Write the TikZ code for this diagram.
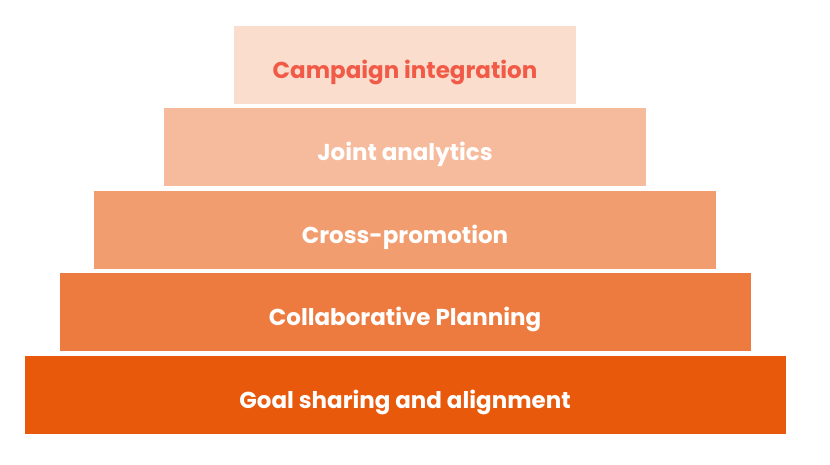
\documentclass[tikz,border=0pt]{standalone}
\usepackage{fontspec}
\setmainfont{Poppins}
\usetikzlibrary{positioning}
\definecolor{tierA}{HTML}{FADDCD}
\definecolor{tierB}{HTML}{F6BB9C}
\definecolor{tierC}{HTML}{F29D6F}
\definecolor{tierD}{HTML}{ED7B3F}
\definecolor{tierE}{HTML}{E8590C}
\definecolor{coral}{HTML}{F25A48}
\tikzset{
  tier/.style={
    rectangle, minimum height=78pt, inner sep=0pt,
    text height=27pt, text depth=0pt,
    align=center, font=\fontsize{23}{26}\selectfont\bfseries, text=white
  }
}

\begin{document}
\begin{tikzpicture}[x=1pt, y=-1pt, node distance=4pt]
    \useasboundingbox[fill=white] (0,0) rectangle (830,464);
    \node[tier, fill=tierA, text=coral, minimum width=342pt] (campaign) at (405,65) {Campaign integration};
    \node[tier, fill=tierB, minimum width=482pt, below=of campaign] (analytics) {Joint analytics};
    \node[tier, fill=tierC, minimum width=622pt, below=of analytics] (promo) {Cross-promotion};
    \node[tier, fill=tierD, minimum width=691pt, below=of promo] (planning) {Collaborative Planning};
    \node[tier, fill=tierE, minimum width=761pt, below=of planning] (goals) {Goal sharing and alignment};
  \end{tikzpicture}
\end{document}
